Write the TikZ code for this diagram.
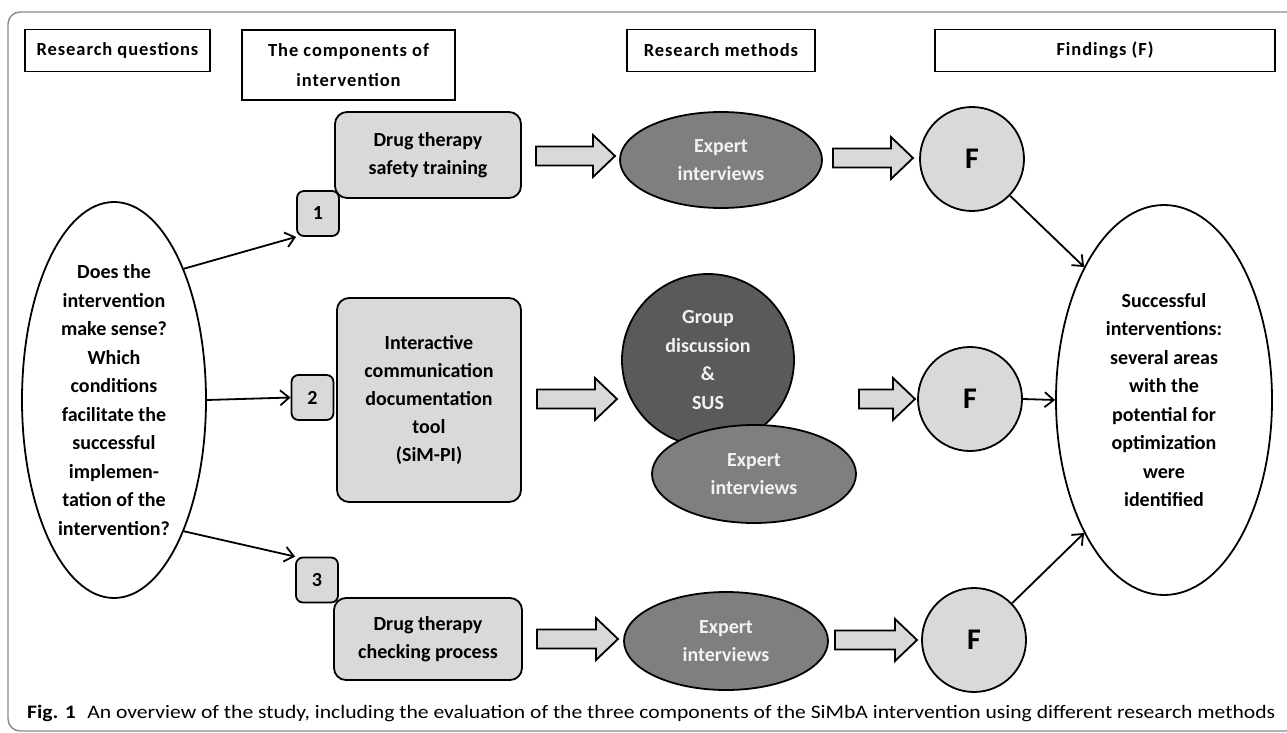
\documentclass[tikz,border=0pt]{standalone}
\usepackage{graphicx}
\usepackage{fontspec}
\setmainfont{Carlito}
\newfontfamily\hdfont[LetterSpace=5]{Carlito}
\usetikzlibrary{shapes.geometric,arrows.meta,calc}
\definecolor{lg}{HTML}{D9D9D9}
\definecolor{dg}{HTML}{7F7F7F}
\definecolor{ddg}{HTML}{5A5A5A}
\definecolor{fr}{HTML}{8A8A8A}
\definecolor{wt}{HTML}{F2F2F2}
\newcommand\blockarr[3]{%
  \draw[barr] ({#1},{#3-9.5}) -- ({#2-22},{#3-9.5}) -- ({#2-22},{#3-21}) -- ({#2},{#3})
    -- ({#2-22},{#3+21}) -- ({#2-22},{#3+9.5}) -- ({#1},{#3+9.5}) -- cycle;}
\begin{document}
\begin{tikzpicture}[x=1pt,y=-1pt,
  hdr/.style={draw, line width=1.9pt, inner sep=0pt, align=center,
    font=\hdfont\bfseries\fontsize{18.5}{30}\selectfont},
  box/.style={draw, fill=lg, rounded corners=12pt, line width=1.8pt, inner sep=0pt,
    align=center, font=\bfseries\fontsize{20}{28}\selectfont},
  num/.style={draw, fill=lg, rounded corners=7pt, line width=1.8pt, inner sep=0pt,
    minimum width=42pt, minimum height=45pt, font=\bfseries\fontsize{20}{24}\selectfont},
  oval/.style={ellipse, draw, line width=1.8pt, inner sep=0pt, align=center,
    font=\bfseries\fontsize{20}{28.5}\selectfont},
  dark/.style={oval, fill=dg, text=wt},
  fc/.style={circle, draw, fill=lg, line width=1.8pt, inner sep=0pt, minimum size=104pt,
    font=\bfseries\fontsize{30}{30}\selectfont},
  conn/.style={-{Straight Barb[length=9pt,width=15pt,line width=1.8pt]}, line width=1.8pt},
  barr/.style={draw, fill=lg, line width=1.8pt, line join=miter}
]
\useasboundingbox (0,0) rectangle (1287,733);
% frame
\draw[fr, line width=1.4pt, rounded corners=12pt] (1295,12) -- (8,12) -- (8,731) -- (1295,731);
% headers
\node[hdr, minimum width=185pt, minimum height=42pt] (h1) at (117.5,50.5) {Research questions};
\node[hdr, minimum width=213pt, minimum height=70pt] (h2) at (348.5,65) {The components of\\intervention};
\node[hdr, minimum width=188pt, minimum height=42pt] (h3) at (721,50.5) {Research methods};
\node[hdr, minimum width=340pt, minimum height=42pt] (h4) at (1105,50.5) {Findings (F)};
% question
\node[oval, minimum width=184pt, minimum height=396pt] (q) at (114,400)
  {Does the\\intervention\\make sense?\\Which\\conditions\\facilitate the\\successful\\implemen-\\tation of the\\intervention?};
% components
\node[box, minimum width=186pt, minimum height=86pt] (b1) at (428,155) {Drug therapy\\safety training};
\node[box, minimum width=184pt, minimum height=204pt] (b2) at (429,400) {Interactive\\communication\\documentation\\tool\\(SiM-PI)};
\node[box, minimum width=188pt, minimum height=82pt] (b3) at (428,639) {Drug therapy\\checking process};
\node[num] (n1) at (318,213.5) {1};
\node[num] (n2) at (312.5,397.5) {2};
\node[num] (n3) at (317,580) {3};
% methods
\node[dark, minimum width=202pt, minimum height=96pt] (e1) at (721,160) {Expert\\interviews};
\node[oval, circle, fill=ddg, text=wt, minimum size=172pt] (g) at (708,360) {Group\\discussion\\\&\\SUS};
\node[dark, minimum width=204pt, minimum height=98pt] (e2) at (754,474) {Expert\\interviews};
\node[dark, minimum width=204pt, minimum height=98pt] (e3) at (726,641) {Expert\\interviews};
% findings
\node[fc] (f1) at (972,159) {F};
\node[fc] (f2) at (970,399) {F};
\node[fc] (f3) at (974,640) {F};
\node[oval, minimum width=216pt, minimum height=390pt] (r) at (1164,400)
  {Successful\\interventions:\\several areas\\with the\\potential for\\optimization\\were\\identified};
% block arrows
\blockarr{536}{615}{156}
\blockarr{537}{617}{399}
\blockarr{537}{618}{639}
\blockarr{833}{913}{158}
\blockarr{859}{915}{399}
\blockarr{835}{917}{640}
% connectors
\draw[conn] (q.62) -- (n1.south west);
\draw[conn] (q.east) -- (n2.west);
\draw[conn] (q.-62) -- (n3.north west);
\draw[conn] (f1.-44) -- (r.121);
\draw[conn] (f2.east) -- (r.west);
\draw[conn] (f3.44) -- (r.-121);
% caption
\node[anchor=base west, inner sep=0pt] (cap) at (27,718)
  {\resizebox{1248pt}{\height}{\fontsize{19}{22}\selectfont\textbf{Fig. 1}\hspace{10pt}An overview of the study, including the evaluation of the three components of the SiMbA intervention using different research methods}};
\end{tikzpicture}
\end{document}
